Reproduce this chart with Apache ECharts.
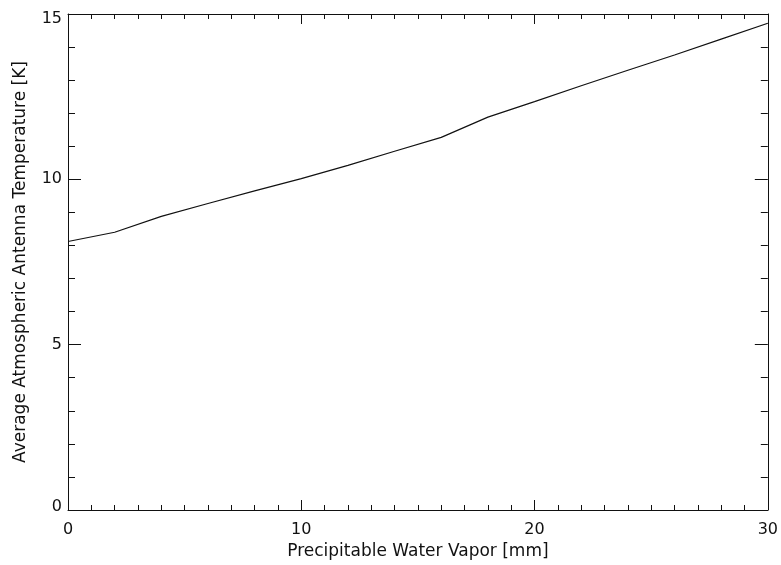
<!DOCTYPE html>
<html>
<head>
<meta charset="utf-8">
<script src="https://cdn.jsdelivr.net/npm/echarts@6/dist/echarts.min.js"></script>
<style>
  html, body { margin: 0; padding: 0; background: #fff; }
  #chart { width: 781px; height: 565px; }
</style>
</head>
<body>
<div id="chart"></div>
<script>
// Precipitable water vapour [mm]
var pwv = [0, 2, 4, 6, 8, 10, 12, 14, 16, 18, 20, 22, 24, 26, 28, 30];
// Average atmospheric antenna temperature [K]
var antennaTemp = [8.12, 8.40, 8.88, 9.27, 9.65, 10.02, 10.42, 10.85, 11.27, 11.88,
                   12.35, 12.83, 13.30, 13.76, 14.24, 14.72];
var xTicks = [0, 10, 20, 30];
var yTicks = [0, 5, 10, 15];

var FONT = 'DejaVu Sans';
var INK = '#111';

var points = pwv.map(function (x, i) { return [x, antennaTemp[i]]; });

function frameX(position, showLabels, name) {
  return {
    type: 'value', position: position, min: 0, max: 30, interval: 10,
    name: name || '', nameLocation: 'middle', nameGap: 27,
    nameTextStyle: { fontFamily: FONT, fontSize: 17, color: INK },
    axisLine: { show: true, onZero: false, lineStyle: { color: INK, width: 1 } },
    axisTick: { show: true, inside: true, length: 10, lineStyle: { color: INK } },
    minorTick: { show: true, splitNumber: 10, length: 5, lineStyle: { color: INK } },
    splitLine: { show: false },
    axisLabel: {
      show: showLabels, margin: 12, fontFamily: FONT, fontSize: 16, color: INK,
      formatter: function (v) { return xTicks.indexOf(v) >= 0 ? String(v) : ''; }
    }
  };
}

function frameY(position, showLabels, name) {
  return {
    type: 'value', position: position, min: 0, max: 15, interval: 5,
    name: name || '', nameLocation: 'middle', nameGap: 39,
    nameTextStyle: { fontFamily: FONT, fontSize: 17, color: INK },
    axisLine: { show: true, onZero: false, lineStyle: { color: INK, width: 1 } },
    axisTick: { show: true, inside: true, length: 13, lineStyle: { color: INK } },
    minorTick: { show: true, splitNumber: 5, length: 7, lineStyle: { color: INK } },
    splitLine: { show: false },
    axisLabel: {
      show: showLabels, margin: 6, fontFamily: FONT, fontSize: 16, color: INK,
      // end labels sit slightly inside the frame
      formatter: function (v) {
        if (yTicks.indexOf(v) < 0) return '';
        if (v === 15) return '{top|' + v + '}';
        if (v === 0) return '{bot|' + v + '}';
        return String(v);
      },
      rich: {
        top: { fontFamily: FONT, fontSize: 16, color: INK, padding: [10, 0, 0, 0] },
        bot: { fontFamily: FONT, fontSize: 16, color: INK, padding: [0, 0, 6, 0] }
      }
    }
  };
}

var chart = echarts.init(document.getElementById('chart'), null, { renderer: 'canvas' });
chart.setOption({
  animation: false,
  backgroundColor: '#fff',
  grid: { left: 68, right: 12, top: 14, bottom: 55, containLabel: false },
  xAxis: [
    frameX('bottom', true, 'Precipitable Water Vapor [mm]'),
    frameX('top', false)
  ],
  yAxis: [
    frameY('left', true, 'Average Atmospheric Antenna Temperature [K]'),
    frameY('right', false)
  ],
  series: [{
    type: 'line',
    xAxisIndex: 0, yAxisIndex: 0,
    data: points,
    showSymbol: false,
    symbol: 'none',
    lineStyle: { color: INK, width: 1.2 }
  }]
});
</script>
</body>
</html>
